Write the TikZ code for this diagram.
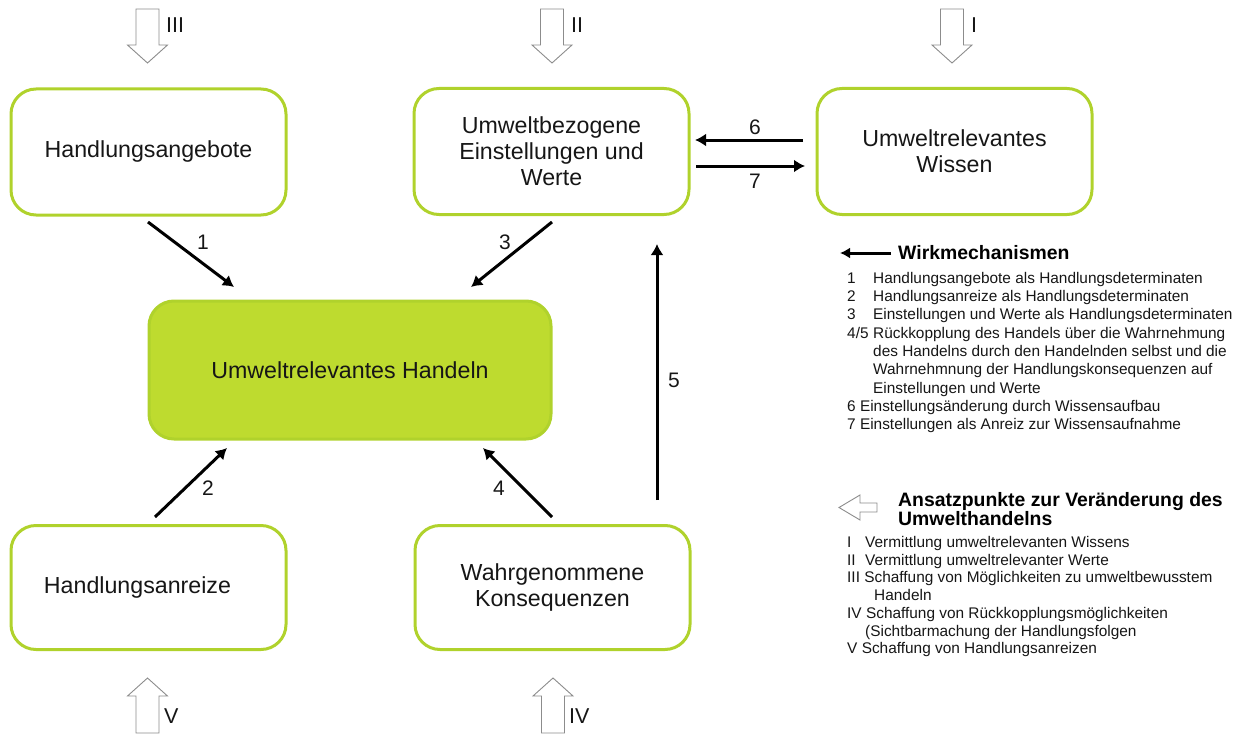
\documentclass[tikz,border=0pt]{standalone}
\usepackage{fontspec}
\setmainfont{Liberation Sans}
\usetikzlibrary{arrows.meta}
\definecolor{lime}{RGB}{176,210,44}
\definecolor{limefill}{RGB}{190,219,47}
\definecolor{txt}{RGB}{22,22,22}
\definecolor{blockgray}{RGB}{140,140,140}
\tikzset{
  box/.style={draw=lime, line width=3pt, rounded corners=25pt, minimum width=275pt, minimum height=126pt, align=center, text=txt, font=\fontsize{23.2}{26}\selectfont, inner sep=0pt},
  mainbox/.style={box, fill=limefill, minimum width=402pt, minimum height=138pt},
  conn/.style={line width=3pt, -{Latex[length=11pt,width=13pt]}, black},
  num/.style={font=\fontsize{21}{24}\selectfont, text=txt, inner sep=0pt},
  roman/.style={font=\fontsize{21.5}{24}\selectfont, text=txt, inner sep=0pt, anchor=base west},
  blockarrow/.style={draw=blockgray, line width=0.9pt, fill=white},
  bdown/.pic={\draw[blockarrow] (-11.5,0) -- (11.5,0) -- (11.5,36) -- (20,36) -- (0,54) -- (-20,36) -- (-11.5,36) -- cycle;},
  bup/.pic={\draw[blockarrow] (-11.5,55) -- (11.5,55) -- (11.5,18) -- (20,18) -- (0,0) -- (-20,18) -- (-11.5,18) -- cycle;},
  legline/.style={font=\fontsize{15.4}{18}\selectfont, text=txt, inner sep=0pt, anchor=base west},
  leghead/.style={font=\fontsize{19.4}{22}\selectfont\bfseries, text=black, inner sep=0pt, anchor=base west},
}
\begin{document}
\begin{tikzpicture}[x=1pt, y=-1pt]
\useasboundingbox (0,0) rectangle (1241,733);

% boxes
\node[box] (angebote) at (148.5,152) {Handlungsangebote};
\node[box] (einst) at (551.5,151.5) {Umweltbezogene\\Einstellungen und\\Werte};
\node[box] (wissen) at (954.5,151.5) {Umweltrelevantes\\Wissen};
\node[mainbox] (handeln) at (350,370) {Umweltrelevantes Handeln};
\node[box, minimum height=124pt] (anreize) at (148.5,587.5) {Handlungsanreize\hspace*{22pt}};
\node[box, minimum height=124pt] (konseq) at (552.5,587.5) {Wahrgenommene\\Konsequenzen};

% connector end points
\coordinate (c1a) at (148,222); \coordinate (c1b) at (234,287);
\coordinate (c3a) at (552,222); \coordinate (c3b) at (471,287);
\coordinate (c2a) at (155,517); \coordinate (c2b) at (227,448);
\coordinate (c4a) at (552,517); \coordinate (c4b) at (483,448);
\coordinate (c5a) at (657,500); \coordinate (c5b) at (657,244);
\coordinate (c6a) at (803,140); \coordinate (c6b) at (695,140);
\coordinate (c7a) at (696,166); \coordinate (c7b) at (805,166);

\draw[conn] (c1a) -- (c1b);
\draw[conn] (c3a) -- (c3b);
\draw[conn] (c2a) -- (c2b);
\draw[conn] (c4a) -- (c4b);
\draw[conn] (c5a) -- (c5b);
\draw[conn] (c6a) -- (c6b);
\draw[conn] (c7a) -- (c7b);

\node[num] (n1) at (203,242) {1};
\node[num] (n3) at (505,242) {3};
\node[num] (n2) at (208,488) {2};
\node[num] (n4) at (499,488) {4};
\node[num] (n5) at (674,380) {5};
\node[num] (n6) at (755,127) {6};
\node[num] (n7) at (755,181) {7};

% block arrows
\pic at (147.5,9) {bdown};
\pic at (552,9) {bdown};
\pic at (952,9) {bdown};
\pic at (147.5,678) {bup};
\pic at (553,678) {bup};
\node[roman] (rIII) at (166,33) {III};
\node[roman] (rII) at (571,33) {II};
\node[roman] (rI) at (971,33) {I};
\node[roman] (rV) at (164,723) {V};
\node[roman] (rIV) at (569,723) {IV};

% legend 1
\coordinate (la) at (891,253); \coordinate (lb) at (840,253);
\draw[line width=3pt, -{Latex[length=10pt,width=11pt]}] (la) -- (lb);
\node[leghead] (wm) at (898,259) {Wirkmechanismen};
\node[legline] at (847,283) {1};
\node[legline] at (873,283) {Handlungsangebote als Handlungsdeterminaten};
\node[legline] at (847,301) {2};
\node[legline] at (873,301) {Handlungsanreize als Handlungsdeterminaten};
\node[legline] at (847,319) {3};
\node[legline] at (873,319) {Einstellungen und Werte als Handlungsdeterminaten};
\node[legline] at (847,338) {4/5};
\node[legline] at (873,338) {Rückkopplung des Handels über die Wahrnehmung};
\node[legline] at (873,356) {des Handelns durch den Handelnden selbst und die};
\node[legline] at (873,374) {Wahrnehmnung der Handlungskonsequenzen auf};
\node[legline] at (873,393) {Einstellungen und Werte};
\node[legline] at (847,411) {6 Einstellungsänderung durch Wissensaufbau};
\node[legline] at (847,429) {7 Einstellungen als Anreiz zur Wissensaufnahme};

% legend 2
\draw[blockarrow] (877,503) -- (860,503) -- (860,495) -- (839,507.5) -- (860,520) -- (860,512) -- (877,512) -- cycle;
\node[leghead] at (898,506) {Ansatzpunkte zur Veränderung des};
\node[leghead] at (898,525) {Umwelthandelns};
\node[legline] at (847,547) {I};
\node[legline] at (865,547) {Vermittlung umweltrelevanten Wissens};
\node[legline] at (847,565) {II};
\node[legline] at (865,565) {Vermittlung umweltrelevanter Werte};
\node[legline] at (847,582) {III Schaffung von Möglichkeiten zu umweltbewusstem};
\node[legline] at (874,600) {Handeln};
\node[legline] at (847,618) {IV Schaffung von Rückkopplungsmöglichkeiten};
\node[legline] at (865,636) {(Sichtbarmachung der Handlungsfolgen};
\node[legline] at (847,653) {V Schaffung von Handlungsanreizen};
\end{tikzpicture}
\end{document}
